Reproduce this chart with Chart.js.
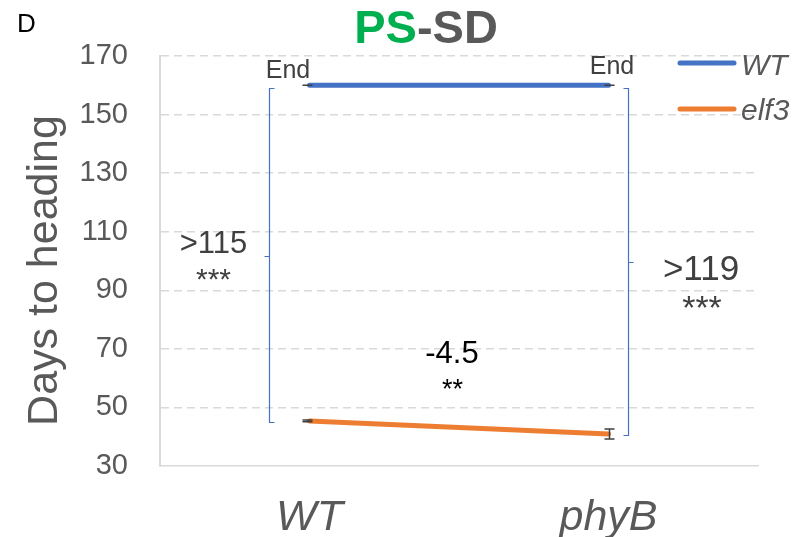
<!DOCTYPE html>
<html>
<head>
<meta charset="utf-8">
<script src="https://cdn.jsdelivr.net/npm/chart.js@4/dist/chart.umd.min.js"></script>
<style>
  html, body { margin: 0; padding: 0; background: #ffffff; }
  #wrap { width: 798px; height: 537px; position: relative; }
</style>
</head>
<body>
<div id="wrap"><canvas id="c" width="798" height="537"></canvas></div>
<script>
// ---- data ----
const categories = ['WT', 'phyB'];
const seriesNames = ['WT', 'elf3'];
const wtValues = [160, 160];
const elf3Values = [45.4, 40.9];
const wtErrors = [0, 0];
const elf3Errors = [0.3, 1.7];
const yTicks = [30, 50, 70, 90, 110, 130, 150, 170];
const bracketTop = [159, 159];
const bracketBottom = [45, 40.6];
const endLabels = ['End', 'End'];
const diffLabels = ['>115', '>119'];
const diffStars = ['***', '***'];
const midLabel = '-4.5';
const midStars = '**';

const FONT = '"Liberation Sans", Arial, sans-serif';
const BLUE = '#4472C4';
const ORANGE = '#ED7D31';
const GREY = '#595959';
const DARK = '#404040';

function txt(ctx, s, x, y, size, color, opts) {
  opts = opts || {};
  ctx.save();
  ctx.font = (opts.style || '') + ' ' + (opts.weight || '') + ' ' + size + 'px ' + FONT;
  ctx.fillStyle = color;
  ctx.textAlign = opts.align || 'center';
  ctx.textBaseline = 'alphabetic';
  ctx.fillText(s, x, y);
  ctx.restore();
}

const decor = {
  id: 'decor',
  afterDatasetsDraw(chart) {
    const ctx = chart.ctx;
    const xs = chart.scales.x, ys = chart.scales.y;
    const errs = [wtErrors, elf3Errors];
    const vals = [wtValues, elf3Values];
    ctx.save();
    ctx.strokeStyle = DARK;
    ctx.lineWidth = 1.5;
    for (let s = 0; s < 2; s++) {
      for (let i = 0; i < categories.length; i++) {
        const x = xs.getPixelForValue(i) + (i === 0 ? -2 : 1);
        const yT = ys.getPixelForValue(vals[s][i] + errs[s][i]);
        const yB = ys.getPixelForValue(vals[s][i] - errs[s][i]);
        ctx.beginPath();
        ctx.moveTo(x, yT); ctx.lineTo(x, yB);
        ctx.moveTo(x - 5, yT); ctx.lineTo(x + 5, yT);
        ctx.moveTo(x - 5, yB); ctx.lineTo(x + 5, yB);
        ctx.stroke();
      }
    }
    ctx.restore();
  },
  afterDraw(chart) {
    const ctx = chart.ctx;
    const xs = chart.scales.x, ys = chart.scales.y;
    // panel letter
    txt(ctx, 'D', 17, 32, 26, '#000000', { align: 'left' });
    // title
    ctx.save();
    ctx.font = 'bold 47px ' + FONT;
    const w1 = ctx.measureText('PS').width;
    const w2 = ctx.measureText('-SD').width;
    const start = 426 - (w1 + w2) / 2;
    ctx.restore();
    txt(ctx, 'PS', start, 43, 47, '#00B050', { align: 'left', weight: 'bold' });
    txt(ctx, '-SD', start + w1, 43, 47, GREY, { align: 'left', weight: 'bold' });
    // y axis title
    ctx.save();
    ctx.translate(57, 270.5);
    ctx.rotate(-Math.PI / 2);
    ctx.font = '43px ' + FONT;
    ctx.fillStyle = GREY;
    ctx.textAlign = 'center';
    ctx.textBaseline = 'alphabetic';
    ctx.fillText('Days to heading', 0, 0);
    ctx.restore();
    // legend
    const legendItems = [[seriesNames[0], BLUE, 63, 75], [seriesNames[1], ORANGE, 109, 120]];
    legendItems.forEach(([name, col, ly, by]) => {
      ctx.save();
      ctx.strokeStyle = col; ctx.lineWidth = 5; ctx.lineCap = 'round';
      ctx.beginPath(); ctx.moveTo(680, ly); ctx.lineTo(734, ly); ctx.stroke();
      ctx.restore();
      txt(ctx, name, 741, by, 30, GREY, { align: 'left', style: 'italic' });
    });
    // brackets
    ctx.save();
    ctx.strokeStyle = BLUE; ctx.lineWidth = 1.2;
    const bx = [xs.getPixelForValue(0) - 41, xs.getPixelForValue(1) + 19];
    const dir = [1, -1];
    for (let i = 0; i < 2; i++) {
      const yT = Math.round(ys.getPixelForValue(bracketTop[i])) + 0.5;
      const yB = Math.round(ys.getPixelForValue(bracketBottom[i])) + 0.5;
      const yM = Math.round((yT + yB) / 2) + 0.5;
      const x = Math.round(bx[i]) + 0.5;
      ctx.beginPath();
      ctx.moveTo(x + dir[i] * 5, yT); ctx.lineTo(x, yT); ctx.lineTo(x, yB); ctx.lineTo(x + dir[i] * 5, yB);
      ctx.moveTo(x, yM); ctx.lineTo(x - dir[i] * 5, yM);
      ctx.stroke();
    }
    ctx.restore();
    // End labels
    txt(ctx, endLabels[0], 288, 78, 25, DARK);
    txt(ctx, endLabels[1], 612, 74, 25, DARK);
    // difference labels
    txt(ctx, diffLabels[0], 213.5, 253, 31, DARK);
    txt(ctx, diffStars[0], 213.5, 288.5, 30, DARK);
    txt(ctx, diffLabels[1], 701, 280, 35, DARK);
    txt(ctx, diffStars[1], 702, 319, 34, DARK);
    txt(ctx, midLabel, 452, 363, 31, '#000000');
    txt(ctx, midStars, 452.5, 398, 27, '#000000');
  }
};

new Chart(document.getElementById('c'), {
  type: 'line',
  data: {
    labels: categories,
    datasets: [
      { label: seriesNames[0], data: wtValues, borderColor: BLUE, backgroundColor: BLUE,
        borderWidth: 5, pointRadius: 0, borderCapStyle: 'round', tension: 0 },
      { label: seriesNames[1], data: elf3Values, borderColor: ORANGE, backgroundColor: ORANGE,
        borderWidth: 5, pointRadius: 0, borderCapStyle: 'round', tension: 0 }
    ]
  },
  options: {
    responsive: false,
    animation: false,
    devicePixelRatio: 1,
    layout: { padding: { left: 0, top: 56, right: 40, bottom: 0 } },
    plugins: { legend: { display: false }, title: { display: false }, tooltip: { enabled: false } },
    scales: {
      x: {
        type: 'category',
        offset: true,
        grid: { display: false, drawTicks: false },
        border: { display: true, color: '#D9D9D9', width: 1.5 },
        ticks: { color: GREY, font: { family: FONT, size: 43, style: 'italic' }, padding: 26, maxRotation: 0 },
        afterFit(scale) { scale.height = 71; }
      },
      y: {
        min: 30, max: 170,
        afterBuildTicks(scale) { scale.ticks = yTicks.map(v => ({ value: v })); },
        grid: {
          drawTicks: false,
          color: (c) => (c.tick && c.tick.value === 30) ? 'rgba(0,0,0,0)' : '#D9D9D9',
          lineWidth: 1.5
        },
        border: { display: true, color: '#D9D9D9', width: 2, dash: [8, 5] },
        ticks: { color: GREY, font: { family: FONT, size: 29 }, padding: 32 },
        afterFit(scale) { scale.width = 160; }
      }
    }
  },
  plugins: [decor]
});
</script>
</body>
</html>
